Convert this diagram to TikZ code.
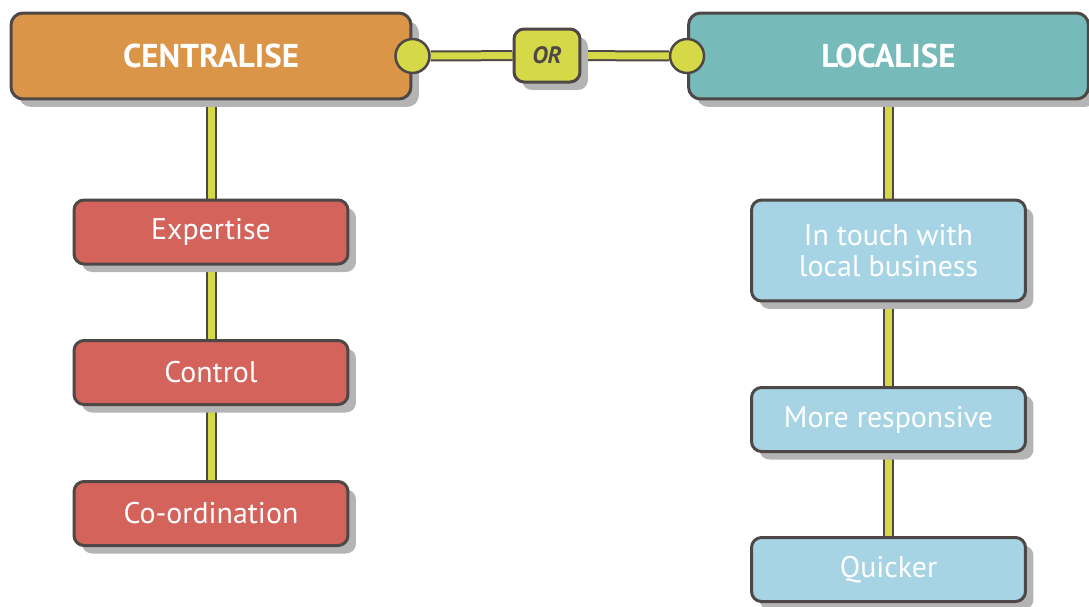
\documentclass[tikz,border=0pt]{standalone}
\usepackage{fontspec}
\setmainfont{PT Sans}
\usetikzlibrary{shadows}
\usetikzlibrary{backgrounds}
\definecolor{edgegray}{HTML}{4D4746}
\definecolor{shadegray}{HTML}{B4B4B4}
\definecolor{limeknob}{HTML}{D6D947}
\definecolor{orangehead}{HTML}{DB9549}
\definecolor{tealhead}{HTML}{76BAB9}
\definecolor{reditem}{HTML}{D4635B}
\definecolor{blueitem}{HTML}{A6D4E5}

\begin{document}
\begin{tikzpicture}[line cap=round,line join=round,x=0.02cm,y=-0.02cm,
  box/.style={draw=edgegray,line width=0.06cm,rounded corners=0.24cm,
    drop shadow={shadow xshift=0.16cm,shadow yshift=-0.16cm,fill=shadegray,opacity=1},
    text=white,align=center,inner sep=0pt,font=\fontsize{17}{17.6}\selectfont},
  head/.style={box,minimum width=8cm,minimum height=1.72cm,font=\fontsize{18.8}{20}\selectfont\bfseries},
  item/.style={box,rounded corners=0.2cm,minimum width=5.48cm,minimum height=1.28cm},
  knob/.style={circle,draw=edgegray,line width=0.05cm,fill=limeknob,minimum size=0.68cm,inner sep=0pt},
  link/.style={draw=edgegray,line width=0.04cm,double=limeknob,double distance=0.14cm}]
\useasboundingbox (0,0) rectangle (1089,606);
% heads
\node[head,fill=orangehead] (cent) at (211,56) {CENTRALISE};
\node[head,fill=tealhead] (loc) at (888.5,56) {LOCALISE};
\node[box,fill=limeknob,rounded corners=0.2cm,minimum width=1.32cm,minimum height=1.06cm,text=edgegray,font=\fontsize{13.5}{14}\selectfont\bfseries\itshape] (or) at (547,55.5) {OR};
\node[knob] (kl) at (cent.east) {};
\node[knob] (kr) at (loc.west) {};
% left column
\node[item,fill=reditem] (exp) at (211,232) {Expertise};
\node[item,fill=reditem] (ctrl) at (211,372.5) {Control};
\node[item,fill=reditem] (coord) at (211,513.5) {Co-ordination};
% right column
\node[item,fill=blueitem,minimum height=2.02cm] (touch) at (888.5,250.5) {In touch with\\local business};
\node[item,fill=blueitem] (resp) at (888.5,419.5) {More responsive};
\node[item,fill=blueitem] (quick) at (888.5,569.5) {Quicker};
% links
\begin{scope}[on background layer]
\draw[link] (kl) -- (or);
\draw[link] (or) -- (kr);
\draw[link] (cent) -- (exp);
\draw[link] (exp) -- (ctrl);
\draw[link] (ctrl) -- (coord);
\draw[link] (loc) -- (touch);
\draw[link] (touch) -- (resp);
\draw[link] (resp) -- (quick);
\end{scope}
\end{tikzpicture}
\end{document}
